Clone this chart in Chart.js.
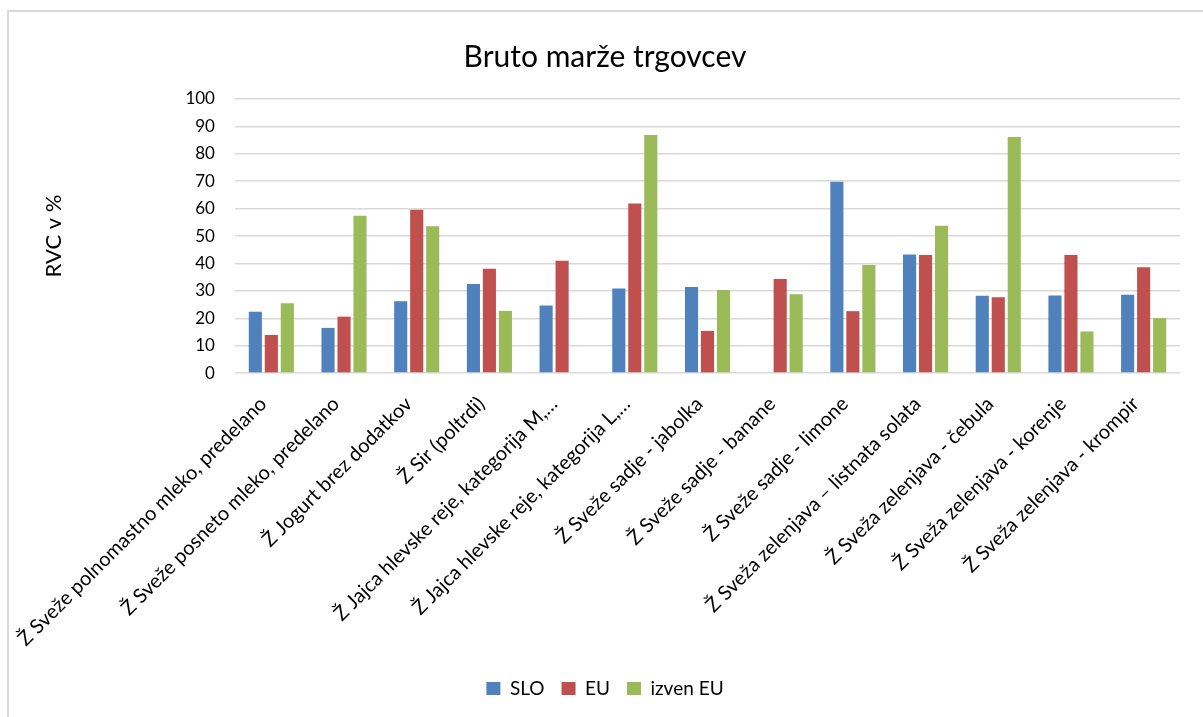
<!DOCTYPE html>
<html>
<head>
<meta charset="utf-8">
<script src="https://cdn.jsdelivr.net/npm/chart.js@4/dist/chart.umd.min.js"></script>
<style>
  html, body { margin: 0; padding: 0; background: #fff; overflow: hidden; }
  #wrap { position: relative; width: 1203px; height: 717px; overflow: hidden; }
  #frame { position: absolute; left: 7px; top: 10px; width: 1300px; height: 800px; border: 2px solid #d9d9d9; box-sizing: border-box; }
  #cv { position: absolute; left: 0; top: 0; }
</style>
</head>
<body>
<div id="wrap">
  <div id="frame"></div>
  <canvas id="cv" width="1203" height="717"></canvas>
</div>
<script>
const chartTitle = 'Bruto marže trgovcev';
const yAxisTitle = 'RVC v %';
const categories = [
  'Ž Sveže polnomastno mleko, predelano',
  'Ž Sveže posneto mleko, predelano',
  'Ž Jogurt brez dodatkov',
  'Ž Sir (poltrdi)',
  'Ž Jajca hlevske reje, kategorija M,…',
  'Ž Jajca hlevske reje, kategorija L,…',
  'Ž Sveže sadje - jabolka',
  'Ž Sveže sadje - banane',
  'Ž Sveže sadje - limone',
  'Ž Sveža zelenjava – listnata solata',
  'Ž Sveža zelenjava - čebula',
  'Ž Sveža zelenjava - korenje',
  'Ž Sveža zelenjava - krompir'
];
const seriesNames = ['SLO', 'EU', 'izven EU'];
const sloValues   = [22.4, 16.5, 26.2, 32.5, 24.7, 30.9, 31.4, null, 69.8, 43.3, 28.2, 28.3, 28.6];
const euValues    = [13.9, 20.6, 59.6, 38.1, 41.0, 61.9, 15.4, 34.3, 22.6, 43.1, 27.7, 43.1, 38.6];
const izvenValues = [25.5, 57.4, 53.6, 22.7, null, 86.9, 30.3, 28.8, 39.4, 53.8, 86.1, 15.2, 20.1];
const yMin = 0, yMax = 100, yStep = 10;
const colors = ['#4F81BD', '#C0504D', '#9BBB59'];

const FONT = 'Lato, "Open Sans", sans-serif';
const values = [sloValues, euValues, izvenValues];

new Chart(document.getElementById('cv'), {
  type: 'bar',
  data: {
    labels: categories,
    datasets: seriesNames.map((n, i) => ({
      label: n,
      data: values[i],
      backgroundColor: colors[i],
      borderWidth: 0,
      categoryPercentage: 0.66,
      barPercentage: 0.82
    }))
  },
  options: {
    responsive: false,
    animation: false,
    layout: { padding: { left: 30, right: 23, top: 0, bottom: 9 } },
    plugins: {
      title: {
        display: true,
        text: chartTitle,
        color: '#000',
        font: { family: FONT, size: 30, weight: 'normal' },
        padding: { top: 39, bottom: 24 }
      },
      legend: {
        position: 'bottom',
        labels: {
          color: '#000',
          font: { family: FONT, size: 19 },
          boxWidth: 14, boxHeight: 13,
          padding: 17
        }
      },
      tooltip: { enabled: false }
    },
    scales: {
      x: {
        grid: { display: false },
        border: { display: false },
        ticks: {
          color: '#000',
          font: { family: FONT, size: 20 },
          minRotation: 45, maxRotation: 45,
          autoSkip: false,
          padding: 11,
          labelOffset: -8
        }
      },
      y: {
        min: yMin, max: yMax,
        border: { display: false },
        grid: { color: '#d9d9d9', lineWidth: 1.5, drawTicks: false },
        ticks: {
          stepSize: yStep,
          color: '#000',
          font: { family: FONT, size: 17 },
          padding: 20
        },
        title: {
          display: true,
          text: yAxisTitle,
          color: '#000',
          font: { family: FONT, size: 22 },
          padding: { top: 11, bottom: 98 }
        }
      }
    }
  }
});
</script>
</body>
</html>
